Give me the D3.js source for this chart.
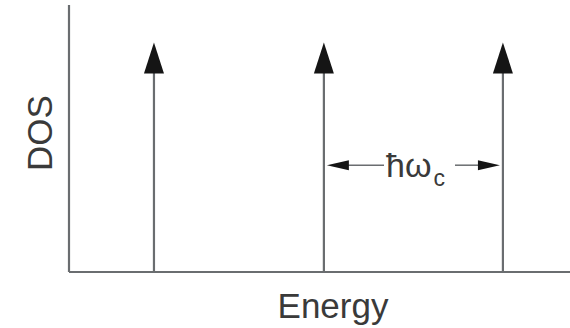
<!DOCTYPE html>
<html>
<head>
<meta charset="utf-8">
<script src="https://cdn.jsdelivr.net/npm/d3@7"></script>
<style>
  html, body { margin: 0; padding: 0; background: #fff; }
  svg { display: block; font-family: "Liberation Sans", Arial, Helvetica, sans-serif; }
</style>
</head>
<body>
<svg id="chart" width="570" height="328"></svg>
<script>
// Data: Landau level positions (energy units) and DOS delta-peak heights
const levelEnergies = [0.485, 1.455, 2.477];
const levelHeights = [0.86, 0.86, 0.86];
const spacingPair = [1.455, 2.477]; // levels bracketed by the ħω_c marker
const spacingY = 0.40;
const xLabel = "Energy";
const yLabel = "DOS";

const W = 570, H = 328;
const m = { left: 69, right: 0, top: 5, bottom: 56 };
const svg = d3.select("#chart");

const x = d3.scaleLinear().domain([0, 2.86]).range([m.left, W - m.right]);
const y = d3.scaleLinear().domain([0, 1]).range([H - m.bottom, m.top]);

const lineCol = "#6a6d70";
const headCol = "#151515";

// Axes (plain lines, no ticks)
svg.append("line")
  .attr("x1", x(0)).attr("x2", x(0)).attr("y1", y(0)).attr("y2", y(1))
  .attr("stroke", lineCol).attr("stroke-width", 2.2);
svg.append("line")
  .attr("x1", x(0)).attr("x2", x(2.86)).attr("y1", y(0)).attr("y2", y(0))
  .attr("stroke", lineCol).attr("stroke-width", 2.2);

// Delta peaks as arrows
const headLen = 31, headW = 20;
const g = svg.append("g");
levelEnergies.forEach((e, i) => {
  const px = x(e), tip = y(levelHeights[i]);
  g.append("line")
    .attr("x1", px).attr("x2", px).attr("y1", y(0)).attr("y2", tip + headLen - 2)
    .attr("stroke", lineCol).attr("stroke-width", 2.2);
  g.append("path")
    .attr("d", `M${px},${tip} L${px - headW / 2},${tip + headLen} L${px + headW / 2},${tip + headLen} Z`)
    .attr("fill", headCol);
});

// ħω_c double arrow
const ax1 = x(spacingPair[0]) + 3, ax2 = x(spacingPair[1]) - 3, ay = y(spacingY);
const hL = 22, hW = 10;
svg.append("line").attr("x1", ax1 + hL - 2).attr("x2", 384).attr("y1", ay).attr("y2", ay)
  .attr("stroke", lineCol).attr("stroke-width", 1.5);
svg.append("line").attr("x1", 455).attr("x2", ax2 - hL + 2).attr("y1", ay).attr("y2", ay)
  .attr("stroke", lineCol).attr("stroke-width", 1.5);
svg.append("path")
  .attr("d", `M${ax1},${ay} L${ax1 + hL},${ay - hW / 2} L${ax1 + hL},${ay + hW / 2} Z`)
  .attr("fill", headCol);
svg.append("path")
  .attr("d", `M${ax2},${ay} L${ax2 - hL},${ay - hW / 2} L${ax2 - hL},${ay + hW / 2} Z`)
  .attr("fill", headCol);

const lbl = svg.append("text")
  .attr("x", 386).attr("y", 177)
  .attr("font-size", 34).attr("fill", "#3a3a3a");
lbl.append("tspan").text("ħω");
lbl.append("tspan").attr("font-size", 23).attr("dx", 2).attr("dy", 9).text("c");

// Axis labels
svg.append("text")
  .attr("x", 333).attr("y", 318)
  .attr("text-anchor", "middle").attr("font-size", 35).attr("fill", "#3a3a3a")
  .text(xLabel);
svg.append("text")
  .attr("transform", "translate(52,133) rotate(-90)")
  .attr("text-anchor", "middle").attr("font-size", 35).attr("fill", "#3a3a3a")
  .text(yLabel);
</script>
</body>
</html>
